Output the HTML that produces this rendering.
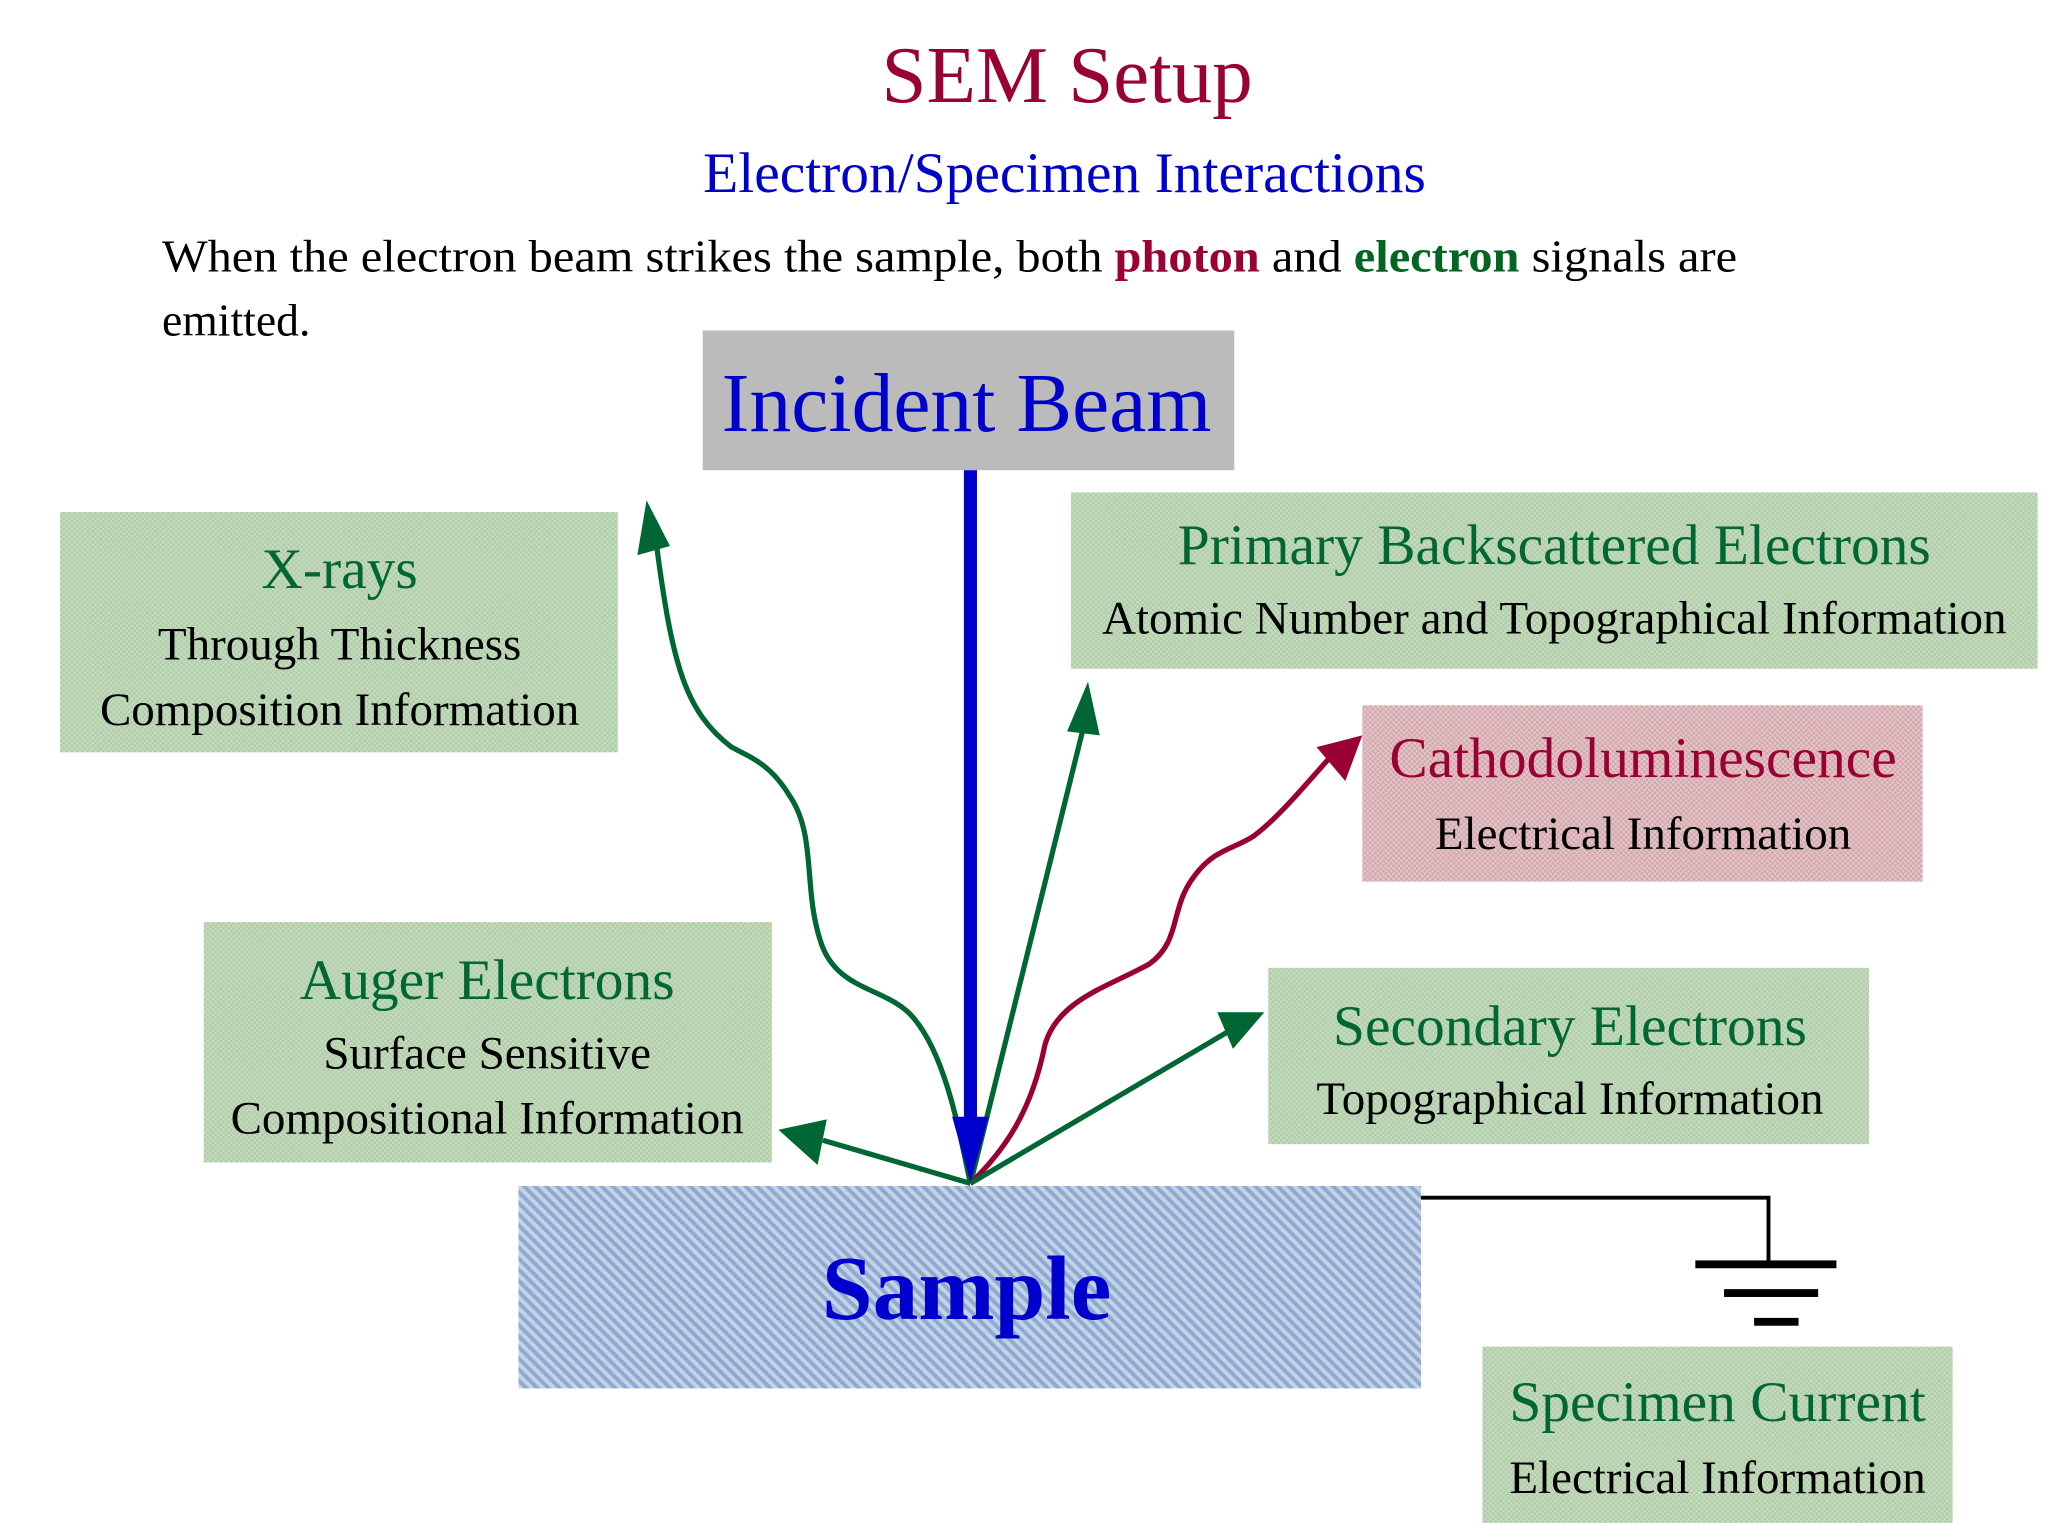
<!DOCTYPE html>
<html><head><meta charset="utf-8"><style>
html,body{margin:0;padding:0;background:#fff;}
svg{display:block}
text{font-family:"Liberation Serif",serif;}
</style></head><body>
<svg width="2048" height="1536" viewBox="0 0 1568 1176" xmlns="http://www.w3.org/2000/svg">
<defs>
<pattern id="g" width="4" height="4" patternUnits="userSpaceOnUse"><rect width="4" height="4" fill="#c4dcbc"/><rect width="2" height="2" fill="#b0ccaa"/><rect x="2" y="2" width="2" height="2" fill="#b0ccaa"/></pattern>
<pattern id="r" width="4" height="4" patternUnits="userSpaceOnUse"><rect width="4" height="4" fill="#e4c4c6"/><rect width="2" height="2" fill="#d2a8ac"/><rect x="2" y="2" width="2" height="2" fill="#d2a8ac"/></pattern>
<pattern id="b" width="6" height="6" patternUnits="userSpaceOnUse" patternTransform="rotate(-45)"><rect width="6" height="6" fill="#c4d2e6"/><rect width="3" height="6" fill="#8eaad2"/></pattern>
</defs>
<rect width="1568" height="1176" fill="#fff"/>
<text x="817" y="78" font-size="62" fill="#990033" text-anchor="middle">SEM Setup</text>
<text x="815" y="147" font-size="44" fill="#0000cc" text-anchor="middle">Electron/Specimen Interactions</text>
<text x="124" y="208" font-size="35" fill="#000" textLength="1206" lengthAdjust="spacingAndGlyphs">When the electron beam strikes the sample, both <tspan fill="#990033" font-weight="bold">photon</tspan> and <tspan fill="#006622" font-weight="bold">electron</tspan> signals are</text>
<text x="124" y="257" font-size="35" fill="#000">emitted.</text>

<rect x="538" y="253" width="407" height="107" fill="#bbbbbb"/>
<text x="740" y="330" font-size="64" fill="#0000cc" text-anchor="middle">Incident Beam</text>

<rect x="46" y="392" width="427" height="184" fill="url(#g)"/>
<text x="260" y="450" font-size="44" fill="#006633" text-anchor="middle">X-rays</text>
<text x="260" y="505" font-size="36" text-anchor="middle">Through Thickness</text>
<text x="260" y="555" font-size="36" text-anchor="middle">Composition Information</text>

<rect x="820" y="377" width="740" height="135" fill="url(#g)"/>
<text x="1190" y="432" font-size="44" fill="#006633" text-anchor="middle">Primary Backscattered Electrons</text>
<text x="1190" y="485" font-size="36" text-anchor="middle">Atomic Number and Topographical Information</text>

<rect x="1043" y="540" width="429" height="135" fill="url(#r)"/>
<text x="1258" y="595" font-size="44" fill="#990033" text-anchor="middle">Cathodoluminescence</text>
<text x="1258" y="650" font-size="36" text-anchor="middle">Electrical Information</text>

<rect x="156" y="706" width="435" height="184" fill="url(#g)"/>
<text x="373" y="765" font-size="44" fill="#006633" text-anchor="middle">Auger Electrons</text>
<text x="373" y="818" font-size="36" text-anchor="middle">Surface Sensitive</text>
<text x="373" y="868" font-size="36" text-anchor="middle">Compositional Information</text>

<rect x="971" y="741" width="460" height="135" fill="url(#g)"/>
<text x="1202" y="800" font-size="44" fill="#006633" text-anchor="middle">Secondary Electrons</text>
<text x="1202" y="853" font-size="36" text-anchor="middle">Topographical Information</text>

<rect x="397" y="908" width="691" height="155" fill="url(#b)"/>
<text x="740" y="1010" font-size="70" font-weight="bold" fill="#0000cc" text-anchor="middle">Sample</text>

<path d="M1088 917 H1354 V968" fill="none" stroke="#000" stroke-width="3"/>
<rect x="1298" y="965" width="108" height="6" fill="#000"/>
<rect x="1320" y="987" width="72" height="6" fill="#000"/>
<rect x="1343" y="1009" width="34" height="6" fill="#000"/>

<rect x="1135" y="1031" width="360" height="135" fill="url(#g)"/>
<text x="1315" y="1088" font-size="44" fill="#006633" text-anchor="middle">Specimen Current</text>
<text x="1315" y="1143" font-size="36" text-anchor="middle">Electrical Information</text>

<!-- arrows -->
<g fill="none" stroke-width="4" stroke-linejoin="round">
<path d="M743 906 C735 870 725 810 700 780 C680 755 640 760 628 720 C615 680 625 640 605 610 C590 585 575 580 560 572 C525 545 515 510 503 420" stroke="#006633"/>
<path d="M743 906 L830 555" stroke="#006633"/>
<path d="M743 906 C770 880 790 850 800 800 C810 765 850 755 880 738 C905 720 895 695 915 670 C930 650 945 650 960 640 C980 625 1000 600 1020 578" stroke="#990033"/>
<path d="M743 906 L940 790" stroke="#006633"/>
<path d="M743 906 L630 873" stroke="#006633"/>
</g>
<polygon points="495,383 488,425 513,418" fill="#006633"/>
<polygon points="833,522 817,560 842,563" fill="#006633"/>
<polygon points="1043,563 1008,572 1030,598" fill="#990033"/>
<polygon points="968,775 932,775 944,803" fill="#006633"/>
<polygon points="596,865 633,857 626,892" fill="#006633"/>
<rect x="738" y="360" width="10" height="500" fill="#0000cc"/>
<polygon points="729,855 757,855 743,905" fill="#0000cc"/>
</svg>
</body></html>
